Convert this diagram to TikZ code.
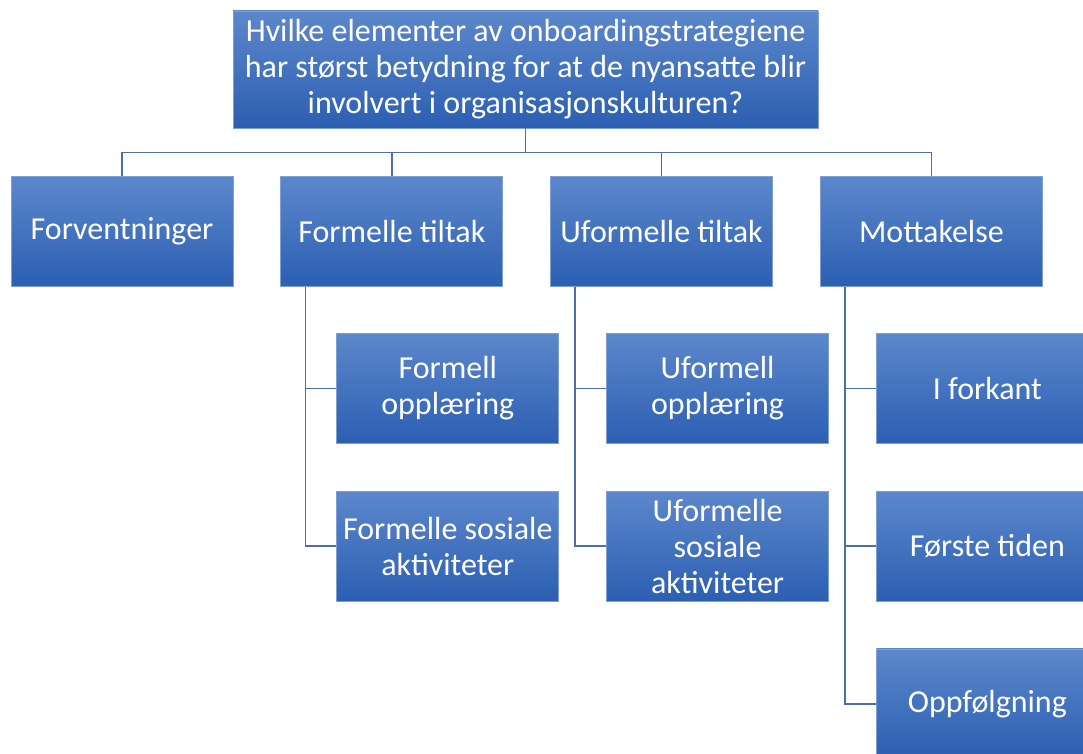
\documentclass[tikz,border=0pt]{standalone}
\usepackage{fontspec}
\setmainfont{Carlito}
\usepackage{tikz}
\usetikzlibrary{
    calc,
    positioning
}
\definecolor{boxtop}{HTML}{5C87CB}
\definecolor{boxbottom}{HTML}{2C5FB2}
\definecolor{boxedge}{HTML}{7E9FD6}
\definecolor{linkblue}{HTML}{4B6FA8}
\tikzstyle{link}=[line width=1.6pt,draw=linkblue]

\begin{document}
\begin{tikzpicture}[
    x=1pt,y=-1pt,
    every node/.style={font=\fontsize{32}{36}\selectfont},
    card/.style={
        rectangle,
        top color=boxtop,
        bottom color=boxbottom,
        draw=boxedge,
        line width=0.8pt,
        text=white,
        align=center,
        inner sep=2pt,
        minimum width=222pt,
        minimum height=110pt
    },
    rootcard/.style={
        card,
        minimum width=585pt,
        minimum height=117pt
    }
]
\useasboundingbox (0,0) rectangle (1083,754);
% question
\node[rootcard] (root) at (525.5,69.5) {Hvilke elementer av onboardingstrategiene\\
har størst betydning for at de nyansatte blir\\
involvert i organisasjonskulturen?};
% first level
\node[card] (forv) at (122,231.5) {Forventninger};
\node[card,right=47pt of forv] (ftiltak) {Formelle tiltak};
\node[card,right=47pt of ftiltak] (utiltak) {Uformelle tiltak};
\node[card,right=47pt of utiltak] (mott) {Mottakelse};
% second level
\node[card,below=46pt of ftiltak,xshift=56pt] (fopp) {Formell\\opplæring};
\node[card,below=47pt of fopp] (fsos) {Formelle sosiale\\aktiviteter};
\node[card,below=46pt of utiltak,xshift=56pt] (uopp) {Uformell\\opplæring};
\node[card,below=47pt of uopp] (usos) {Uformelle\\sosiale\\aktiviteter};
\node[card,below=46pt of mott,xshift=56pt] (forkant) {I forkant};
\node[card,below=47pt of forkant] (forste) {Første tiden};
\node[card,below=47pt of forste] (oppf) {Oppfølgning};
% connectors
\draw[link] (root.south) -- ++(0,24) -| (forv.north);
\draw[link] (root.south) -- ++(0,24) -| (ftiltak.north);
\draw[link] (root.south) -- ++(0,24) -| (utiltak.north);
\draw[link] (root.south) -- ++(0,24) -| (mott.north);
\draw[link] ([xshift=25pt]ftiltak.south west) |- (fopp.west);
\draw[link] ([xshift=25pt]ftiltak.south west) |- (fsos.west);
\draw[link] ([xshift=25pt]utiltak.south west) |- (uopp.west);
\draw[link] ([xshift=25pt]utiltak.south west) |- (usos.west);
\draw[link] ([xshift=25pt]mott.south west) |- (forkant.west);
\draw[link] ([xshift=25pt]mott.south west) |- (forste.west);
\draw[link] ([xshift=25pt]mott.south west) |- (oppf.west);
\end{tikzpicture}
\end{document}
